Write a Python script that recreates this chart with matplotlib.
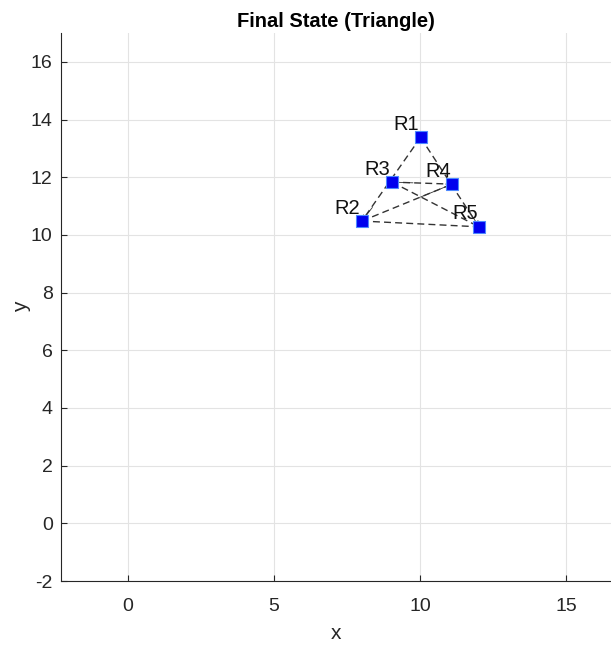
import numpy as np
import matplotlib.pyplot as plt

plt.rcParams['font.family'] = ['Liberation Sans', 'DejaVu Sans']
plt.rcParams['axes.unicode_minus'] = False

# Final robot positions
names = ['R1', 'R2', 'R3', 'R4', 'R5']
xs = [10.02, 8.01, 9.04, 11.10, 12.02]
ys = [13.38, 10.48, 11.83, 11.76, 10.28]

# Formation links (dashed) and last trajectory steps (short arrows)
links = [(0, 1), (0, 4), (1, 4), (2, 3), (1, 3), (2, 4)]
moves = [(2, 1), (3, 2), (1, 3), (3, 4)]

fig = plt.figure(figsize=(6.11, 6.45), dpi=100)
ax = fig.add_axes([61 / 611, 64 / 645, 550 / 611, 548 / 645])

for i, j in links:
    ax.plot([xs[i], xs[j]], [ys[i], ys[j]], color='#333333', lw=1.0, ls=(0, (5, 3)))

for i, j in moves:
    # draw only the final part of each step so the arrowhead sits on the marker
    x0 = xs[j] + 0.35 * (xs[i] - xs[j])
    y0 = ys[j] + 0.35 * (ys[i] - ys[j])
    ax.annotate('', xy=(xs[j], ys[j]), xytext=(x0, y0),
                arrowprops=dict(arrowstyle='->', color='#333333', lw=0.6,
                                mutation_scale=9, shrinkA=0, shrinkB=0))

ax.plot(xs, ys, 's', ms=8.5, mfc='#0000ee', mec='#4d88ff', mew=0.8, ls='none', zorder=5)
for n, x, y in zip(names, xs, ys):
    ax.text(x - 0.05, y + 0.12, n, fontsize=14.5, ha='right', va='bottom', color='#111111')

ax.set_xlim(-2.29, 16.54)
ax.set_ylim(-2, 17)
ax.set_xticks([0, 5, 10, 15])
ax.set_yticks(np.arange(-2, 17, 2))
ax.grid(True, color='#e3e3e3', lw=0.8)
ax.set_axisbelow(True)
for s in ['top', 'right']:
    ax.spines[s].set_visible(False)
for s in ['left', 'bottom']:
    ax.spines[s].set_color('#262626')
    ax.spines[s].set_linewidth(0.8)
ax.tick_params(direction='in', length=4, labelsize=14, colors='#262626')
ax.tick_params(axis='x', pad=12)
ax.tick_params(axis='y', pad=6)
ax.set_xlabel('x', fontsize=15, color='#262626', va='center')
ax.set_ylabel('y', fontsize=15, color='#262626', va='center')
ax.xaxis.set_label_coords(0.5, -0.095)
ax.yaxis.set_label_coords(-0.071, 0.5)
ax.set_title('Final State (Triangle)', fontsize=14.5, fontweight='bold', pad=4)

fig.savefig('out.png', dpi=100)
